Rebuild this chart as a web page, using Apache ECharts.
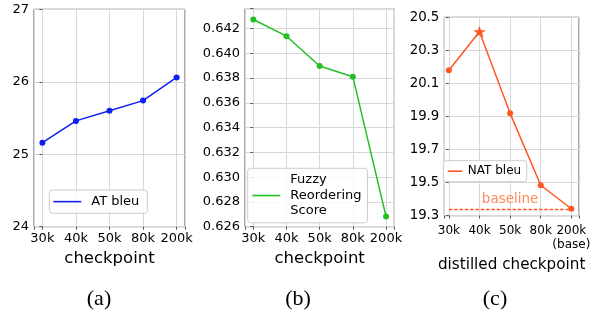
<!DOCTYPE html>
<html>
<head>
<meta charset="utf-8">
<script src="https://cdn.jsdelivr.net/npm/echarts@6/dist/echarts.min.js"></script>
<style>
  html, body { margin: 0; padding: 0; background: #fff; }
  #chart { width: 594px; height: 311px; }
</style>
</head>
<body>
<div id="chart"></div>
<script>
// ---- data ----
const checkpoints = ['30k', '40k', '50k', '80k', '200k'];
const atBleu = [25.16, 25.46, 25.60, 25.74, 26.06];
const fuzzyScore = [0.64273, 0.64138, 0.63897, 0.63811, 0.62683];
const natBleu = [20.18, 20.413, 19.919, 19.484, 19.342];
const natBaseline = 19.34;
const baseNote = '(base)';
const captions = ['(a)', '(b)', '(c)'];
const names = {
  at: 'AT bleu',
  fuzzy: 'Fuzzy\nReordering\nScore',
  nat: 'NAT bleu',
  baseline: 'baseline',
  xA: 'checkpoint',
  xB: 'checkpoint',
  xC: 'distilled checkpoint'
};

// ---- styling ----
const FONT = 'DejaVu Sans';
const FRAME = '#555555';
const GRIDC = '#d8d8d8';
const C_A = '#1020f0';
const C_B = '#22c022';
const C_C = '#ff5722';

const starPath = 'path://M100,0 L122.45,69.1 L195.1,69.1 L136.3,111.8 L158.8,180.9 L100,138.2 L41.2,180.9 L63.7,111.8 L4.9,69.1 L77.55,69.1 Z';
const starIndex = natBleu.indexOf(Math.max(...natBleu));

const toPairs = arr => arr.map((v, i) => [i, v]);

function xAxis(gridIndex, min, max, name, nameGap, fs, lblMargin, formatter) {
  return {
    type: 'value', gridIndex, min, max,
    name, nameLocation: 'middle', nameGap,
    nameTextStyle: { fontFamily: FONT, fontSize: fs.name, color: '#000' },
    axisLine: { show: false },
    axisTick: { show: true, length: 3, lineStyle: { color: FRAME } },
    splitLine: { show: true, lineStyle: { color: GRIDC, width: 1 } },
    axisLabel: {
      fontFamily: FONT, fontSize: fs.tick, color: '#000', margin: lblMargin,
      lineHeight: fs.lh,
      formatter: formatter || (v => (Number.isInteger(v) && v >= 0 && v < checkpoints.length) ? checkpoints[v] : '')
    }
  };
}
function yAxis(gridIndex, min, max, interval, fs, formatter) {
  return {
    type: 'value', gridIndex, min, max, interval,
    axisLine: { show: false },
    axisTick: { show: true, length: 3, lineStyle: { color: FRAME } },
    splitLine: { show: true, lineStyle: { color: GRIDC, width: 1 } },
    axisLabel: { fontFamily: FONT, fontSize: fs, color: '#000', margin: 5, formatter }
  };
}
const gridBase = { show: true, borderColor: FRAME, borderWidth: 1, backgroundColor: 'transparent', containLabel: false };

const option = {
  animation: false,
  grid: [
    Object.assign({ left: 34, top: 9.3, width: 151, height: 217.4 }, gridBase),
    Object.assign({ left: 245, top: 8.7, width: 149.3, height: 218 }, gridBase),
    Object.assign({ left: 444.3, top: 17.3, width: 134.7, height: 198.4 }, gridBase)
  ],
  xAxis: [
    xAxis(0, -0.25, 4.25, names.xA, 20, { name: 16.5, tick: 13, lh: 15 }, 4),
    xAxis(1, -0.25, 4.25, names.xB, 20, { name: 16.5, tick: 13, lh: 15 }, 4),
    xAxis(2, -0.15, 4.25, names.xC, 35.5, { name: 15.2, tick: 12, lh: 14.5 }, 7.5,
      v => (Number.isInteger(v) && v >= 0 && v < checkpoints.length)
        ? (v === checkpoints.length - 1 ? checkpoints[v] + '\n' + baseNote : checkpoints[v]) : '')
  ],
  yAxis: [
    yAxis(0, 24, 27, 1, 13, v => String(Math.round(v))),
    yAxis(1, 0.626, 0.6436, 0.002, 13,
      v => Math.abs(v / 0.002 - Math.round(v / 0.002)) < 1e-6 ? v.toFixed(3) : ''),
    yAxis(2, 19.3, 20.5, 0.2, 13.3, v => v.toFixed(1))
  ],
  legend: [
    {
      data: [names.at], left: 49.3, top: 190, orient: 'vertical',
      padding: [4, 8, 4, 4], itemWidth: 28, itemHeight: 1.6, icon: 'rect',
      backgroundColor: 'rgba(255,255,255,0.85)', borderColor: '#cccccc', borderWidth: 1, borderRadius: 3,
      selectedMode: false,
      textStyle: { fontFamily: FONT, fontSize: 13, color: '#000', padding: [0, 0, 0, 5], lineHeight: 15.3 }
    },
    {
      data: [names.fuzzy], left: 247.7, top: 168.3, orient: 'vertical',
      padding: [4, 6, 4, 4.6], itemWidth: 28, itemHeight: 1.6, icon: 'rect',
      backgroundColor: 'rgba(255,255,255,0.85)', borderColor: '#cccccc', borderWidth: 1, borderRadius: 3,
      selectedMode: false,
      textStyle: { fontFamily: FONT, fontSize: 13, color: '#000', padding: [0, 0, 0, 5], lineHeight: 15.5 }
    },
    {
      data: [names.nat], left: 443.3, top: 160.7, orient: 'vertical',
      padding: [3.5, 5.6, 3.5, 4.4], itemWidth: 14.6, itemHeight: 1.6, icon: 'rect',
      backgroundColor: 'rgba(255,255,255,0.85)', borderColor: '#cccccc', borderWidth: 1, borderRadius: 3,
      selectedMode: false,
      textStyle: { fontFamily: FONT, fontSize: 12, color: '#000', padding: [0, 0, 0, 0.5], lineHeight: 14 }
    }
  ],
  series: [
    {
      name: names.at, type: 'line', xAxisIndex: 0, yAxisIndex: 0,
      data: toPairs(atBleu), symbol: 'circle', symbolSize: 6,
      lineStyle: { color: C_A, width: 1.5 }, itemStyle: { color: C_A }
    },
    {
      name: names.fuzzy, type: 'line', xAxisIndex: 1, yAxisIndex: 1,
      data: toPairs(fuzzyScore), symbol: 'circle', symbolSize: 6,
      lineStyle: { color: C_B, width: 1.5 }, itemStyle: { color: C_B }
    },
    {
      name: names.nat, type: 'line', xAxisIndex: 2, yAxisIndex: 2,
      data: toPairs(natBleu).map((p, i) => i === starIndex
        ? { value: p, symbol: starPath, symbolSize: [13, 12.4], symbolKeepAspect: true }
        : { value: p }),
      symbol: 'circle', symbolSize: 6,
      lineStyle: { color: C_C, width: 1.5 }, itemStyle: { color: C_C },
      markLine: {
        silent: true, symbol: 'none', animation: false,
        lineStyle: { color: C_C, type: [3.5, 1.8], width: 1.3 },
        label: { show: true, position: 'middle', formatter: names.baseline, color: '#ff8a5c',
                 fontFamily: FONT, fontSize: 13.5, distance: 3 },
        data: [[{ coord: [0, natBaseline] }, { coord: [checkpoints.length - 1, natBaseline] }]]
      }
    }
  ],
  graphic: [
    { type: 'text', x: 99, y: 299, style: { text: captions[0], fontFamily: 'Liberation Serif', fontSize: 22, fill: '#000', align: 'center', verticalAlign: 'middle' } },
    { type: 'text', x: 298, y: 299, style: { text: captions[1], fontFamily: 'Liberation Serif', fontSize: 22, fill: '#000', align: 'center', verticalAlign: 'middle' } },
    { type: 'text', x: 495, y: 299, style: { text: captions[2], fontFamily: 'Liberation Serif', fontSize: 22, fill: '#000', align: 'center', verticalAlign: 'middle' } }
  ]
};

const chart = echarts.init(document.getElementById('chart'), null, { renderer: 'canvas' });
chart.setOption(option);
</script>
</body>
</html>
